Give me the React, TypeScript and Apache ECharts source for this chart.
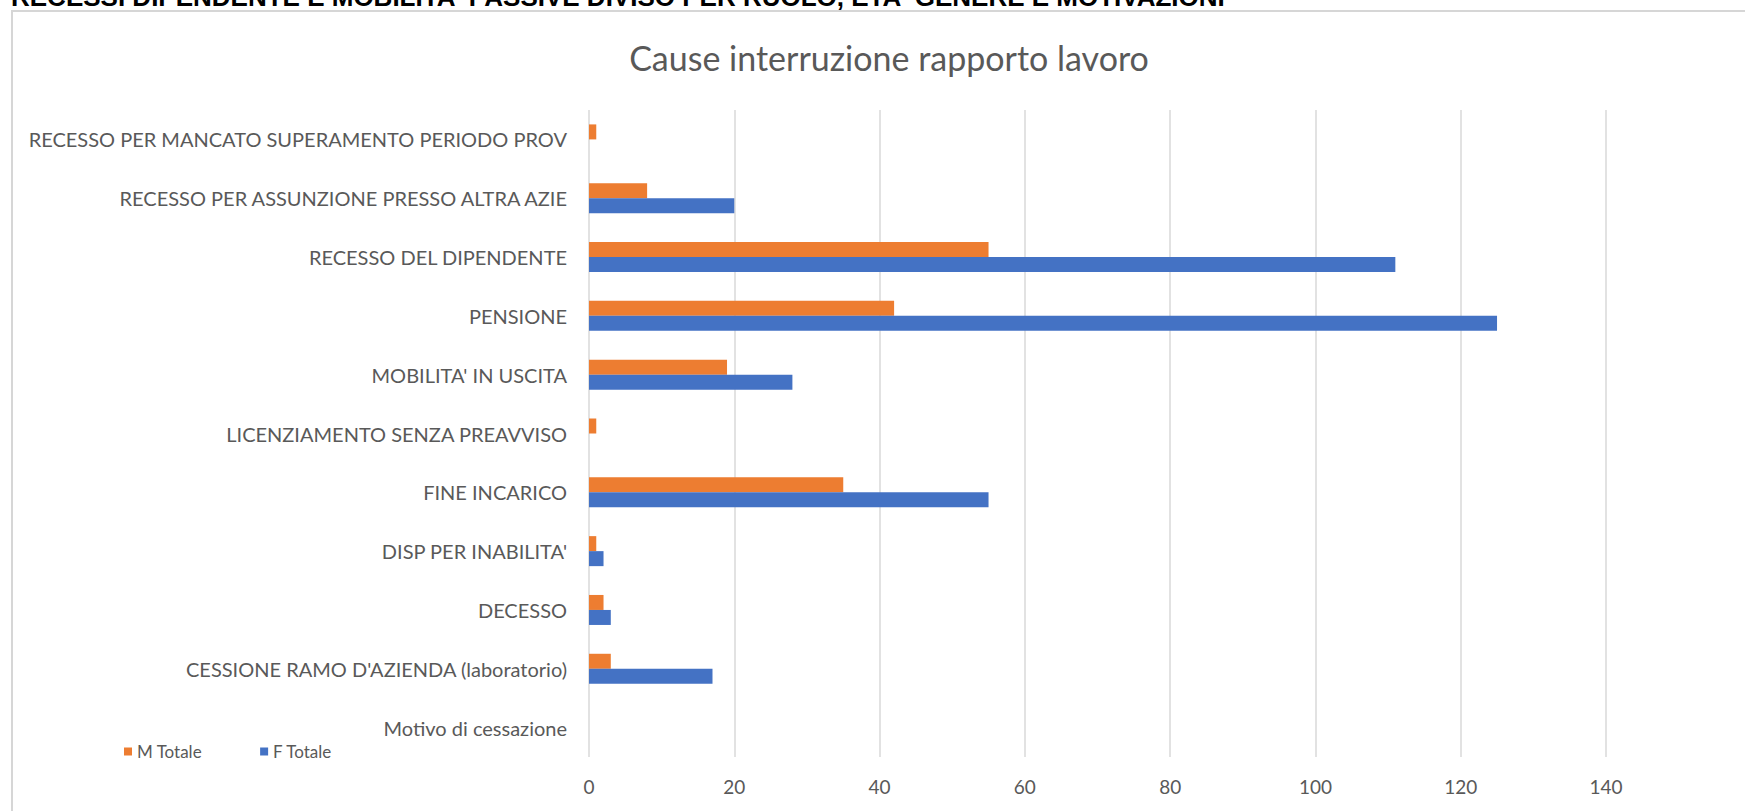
import React, { useEffect, useRef } from "react";
import * as echarts from "echarts";

const categories = [
  "RECESSO PER MANCATO SUPERAMENTO PERIODO PROV",
  "RECESSO PER ASSUNZIONE PRESSO ALTRA AZIE",
  "RECESSO DEL DIPENDENTE",
  "PENSIONE",
  "MOBILITA' IN USCITA",
  "LICENZIAMENTO SENZA PREAVVISO",
  "FINE INCARICO",
  "DISP PER INABILITA'",
  "DECESSO",
  "CESSIONE RAMO D'AZIENDA (laboratorio)",
  "Motivo di cessazione",
];

const mTotale = [1, 8, 55, 42, 19, 1, 35, 1, 2, 3, null];
const fTotale = [null, 20, 111, 125, 28, null, 55, 2, 3, 17, null];

const xTicks = { min: 0, max: 140, interval: 20 };

const chartTitle = "Cause interruzione rapporto lavoro";
const pageHeading =
  "RECESSI DIPENDENTE E MOBILITA' PASSIVE DIVISO PER RUOLO, ETA' GENERE E MOTIVAZIONI";

const TEXT = "#595959";
const FONT = "Lato, 'Open Sans', sans-serif";

export default function App() {
  const ref = useRef<HTMLDivElement>(null);

  useEffect(() => {
    if (!ref.current) return;
    const chart = echarts.init(ref.current, null, { renderer: "svg" });
    chart.setOption({
      animation: false,
      backgroundColor: "#ffffff",
      textStyle: { fontFamily: FONT, color: TEXT },
      graphic: [
        {
          type: "rect",
          shape: { x: 12, y: 11, width: 1760, height: 900 },
          style: { fill: "none", stroke: "#d6d6d6", lineWidth: 2 },
          silent: true,
        },
        {
          type: "text",
          x: 11,
          y: -3,
          style: {
            text: pageHeading,
            font: "bold 26px 'Liberation Sans', Arial, sans-serif",
            fill: "#000000",
            align: "left",
            verticalAlign: "middle",
          },
          silent: true,
        },
        {
          type: "text",
          x: 889,
          y: 57,
          style: {
            text: chartTitle,
            font: `34px ${FONT}`,
            fill: TEXT,
            align: "center",
            verticalAlign: "middle",
          },
          silent: true,
        },
      ],
      legend: {
        left: 119,
        top: 738,
        itemWidth: 8,
        itemHeight: 8,
        itemGap: 58,
        icon: "rect",
        textStyle: { fontFamily: FONT, fontSize: 17, color: TEXT },
        data: ["M Totale", "F Totale"],
      },
      grid: {
        left: 589,
        right: 139,
        top: 110,
        bottom: 54,
        containLabel: false,
      },
      xAxis: {
        type: "value",
        min: xTicks.min,
        max: xTicks.max,
        interval: xTicks.interval,
        axisLine: { show: false },
        axisTick: { show: false },
        splitLine: { show: true, lineStyle: { color: "#d9d9d9", width: 1.5 } },
        axisLabel: {
          fontFamily: FONT,
          fontSize: 19,
          color: TEXT,
          margin: 20,
        },
      },
      yAxis: {
        type: "category",
        inverse: true,
        data: categories,
        axisLine: { show: false },
        axisTick: { show: false },
        splitLine: { show: false },
        axisLabel: {
          fontFamily: FONT,
          fontSize: 20,
          color: TEXT,
          margin: 22,
          interval: 0,
        },
      },
      series: [
        {
          name: "M Totale",
          type: "bar",
          data: mTotale,
          barWidth: 15,
          barGap: "0%",
          itemStyle: { color: "#ED7D31" },
        },
        {
          name: "F Totale",
          type: "bar",
          data: fTotale,
          barWidth: 15,
          barGap: "0%",
          itemStyle: { color: "#4472C4" },
        },
      ],
    });
    return () => chart.dispose();
  }, []);

  return (
    <div
      ref={ref}
      style={{
        position: "fixed",
        left: 0,
        top: 0,
        width: 1745,
        height: 811,
        background: "#fff",
      }}
    />
  );
}
